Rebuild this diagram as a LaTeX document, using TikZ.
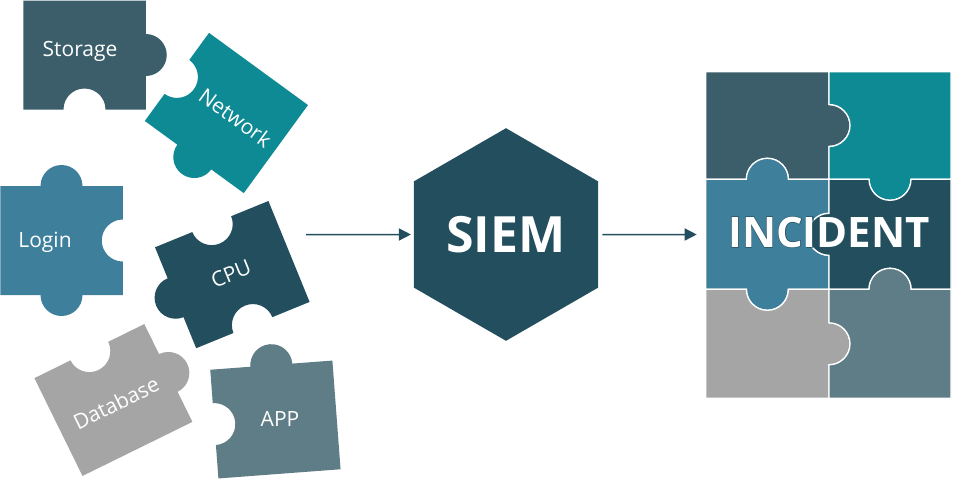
\documentclass[tikz,border=0pt]{standalone}
\usepackage{fontspec}
\setmainfont{Open Sans}
\newfontface\glowface{Open Sans Bold}[FakeBold=2.5]
\usetikzlibrary{arrows.meta,shapes.geometric}
\definecolor{cStore}{HTML}{3B5E6A}
\definecolor{cTeal}{HTML}{0E8A94}
\definecolor{cLogin}{HTML}{3E809C}
\definecolor{cDark}{HTML}{234E5E}
\definecolor{cGray}{HTML}{A5A5A5}
\definecolor{cApp}{HTML}{5F7D86}
\def\ha{61.25}\def\hb{54.5}
\def\Tf{-- (\ha,\hb)}
\def\Tt{-- (-21,\hb) arc (180:0:21pt) -- (\ha,\hb)}
\def\Tn{-- (-21,\hb) arc (180:360:21pt) -- (\ha,\hb)}
\def\Rf{-- (\ha,-\hb)}
\def\Rt{-- (\ha,21) arc (90:-90:21pt) -- (\ha,-\hb)}
\def\Rn{-- (\ha,21) arc (90:270:21pt) -- (\ha,-\hb)}
\def\Bf{-- (-\ha,-\hb)}
\def\Bt{-- (21,-\hb) arc (0:-180:21pt) -- (-\ha,-\hb)}
\def\Bn{-- (21,-\hb) arc (0:180:21pt) -- (-\ha,-\hb)}
\def\Lf{-- cycle}
\def\Lt{-- (-\ha,-21) arc (270:90:21pt) -- cycle}
\def\Ln{-- (-\ha,-21) arc (-90:90:21pt) -- cycle}
\newcommand\pc[5]{\path[#4,shift={(#1,-#2)},rotate=#3] (-\ha,\hb) #5;}
\tikzset{
  lone/.style={fill=#1},
  set/.style={fill=#1,draw=white,line width=1.3pt},
  lbl/.style={text=white,font=\fontsize{21}{25}\selectfont,inner sep=0pt},
  big/.style={text=white,font=\fontsize{#1}{#1}\selectfont\bfseries,inner sep=0pt},
  flow/.style={draw=cDark,line width=1.5pt,-{Triangle[length=12pt,width=12pt]}}
}
\begin{document}
\begin{tikzpicture}[x=1pt,y=1pt]
\useasboundingbox (0,-480) rectangle (960,0);
% loose pieces
\pc{84.5}{55}{0}{lone=cStore}{\Tf\Rt\Bn\Lf}
\pc{226.4}{113}{-36.1}{lone=cTeal}{\Tf\Rf\Bt\Ln}
\pc{61.5}{240.5}{0}{lone=cLogin}{\Tt\Rn\Bt\Lf}
\pc{232.3}{274.6}{22.2}{lone=cDark}{\Tn\Rf\Bn\Lt}
\pc{113.4}{400}{26.2}{lone=cGray}{\Tn\Rt\Bf\Lf}
\pc{275.4}{419.5}{4.3}{lone=cApp}{\Tt\Rf\Bf\Ln}
\node[lbl] (storage) at (80,-51) {Storage};
\node[lbl,rotate=-36.1] (network) at (235.5,-117.5) {Network};
\node[lbl] (login) at (45,-242) {Login};
\node[lbl,rotate=22.2] (cpu) at (231,-273.5) {CPU};
\node[lbl,rotate=26.2] (database) at (116,-403) {Database};
\node[lbl] (app) at (280,-419) {APP};
% SIEM
\node[regular polygon,regular polygon sides=6,shape border rotate=90,minimum size=212.6pt,inner sep=0pt,outer sep=0pt,fill=cDark,big=50,text=white] (siem) at (506,-234.5) {SIEM};
% assembled puzzle
\def\ha{61.65}\def\hb{53.8}
\pc{767.35}{125.5}{0}{set=cStore}{\Tf\Rt\Bn\Lf}
\def\ha{61}
\pc{890}{125.5}{0}{set=cTeal}{\Tf\Rf\Bt\Ln}
\def\ha{61.65}\def\hb{55}
\pc{767.35}{234.3}{0}{set=cLogin}{\Tt\Rn\Bt\Lf}
\def\ha{61}
\pc{890}{234.3}{0}{set=cDark}{\Tn\Rf\Bn\Lt}
\def\ha{61.65}\def\hb{54.5}
\pc{767.35}{343.8}{0}{set=cGray}{\Tn\Rt\Bf\Lf}
\def\ha{61}
\pc{890}{343.8}{0}{set=cApp}{\Tt\Rf\Bf\Ln}
\node[minimum width=245.3pt,minimum height=326.6pt,inner sep=0pt,outer sep=0pt] (puzzle) at (828.35,-234.5) {};
\node[big=42,anchor=base] (incident) at (829,-247) {\rlap{\pgfsetfillopacity{0.3}\color{cDark}\glowface INCIDENT\pgfsetfillopacity{1}}INCIDENT};
% arrows
\coordinate (in) at (306,-234.5);
\draw[flow,shorten >=3pt] (in) -- (siem.west);
\draw[flow,shorten <=4.3pt,shorten >=9pt] (siem.east) -- (puzzle.west);
\end{tikzpicture}
\end{document}
